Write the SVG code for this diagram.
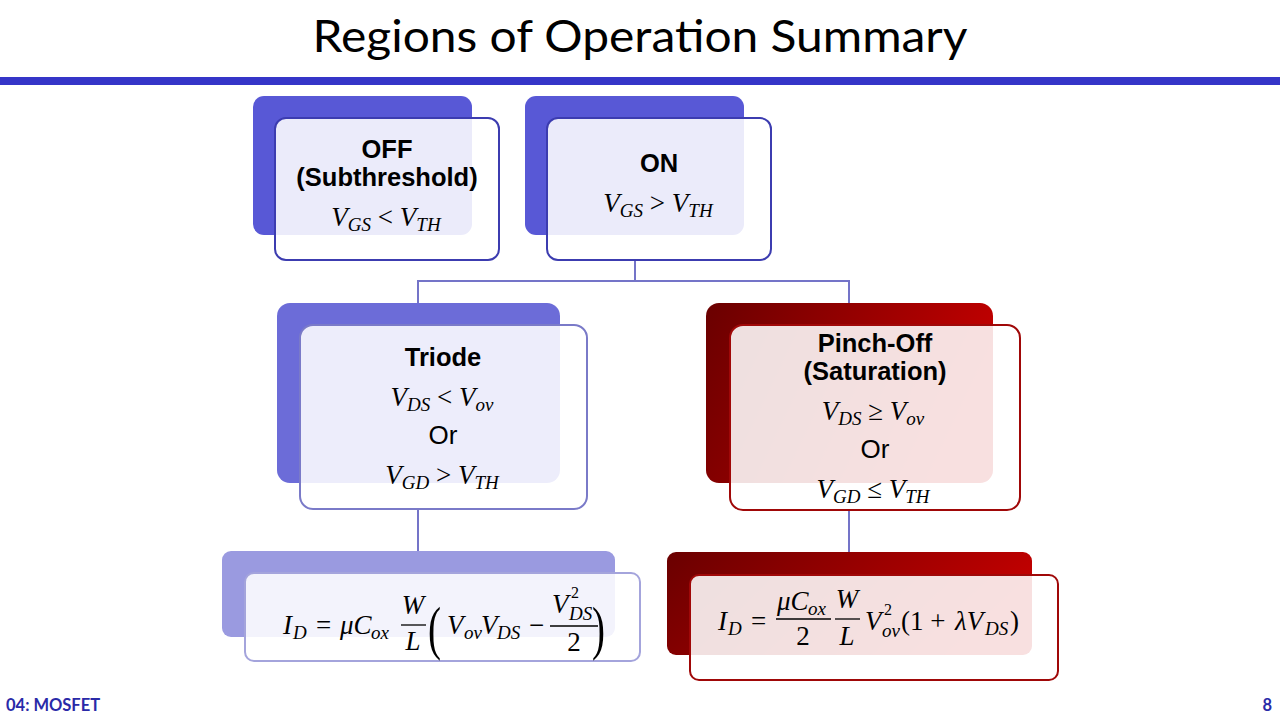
<svg xmlns="http://www.w3.org/2000/svg" width="1280" height="720" viewBox="0 0 1280 720">
<defs>
<linearGradient id="red" x1="0" y1="0" x2="1" y2="0.3">
<stop offset="0" stop-color="#6a0000"/>
<stop offset="1" stop-color="#c20000"/>
</linearGradient>
<style>
.title{font-family:Lato,"Liberation Sans",sans-serif;font-size:45px;fill:#000}
.lbl{font-family:"Liberation Sans",Arial,sans-serif;font-size:25.5px;font-weight:bold;fill:#000;text-anchor:middle}
.or{font-family:"Liberation Sans",Arial,sans-serif;font-size:26px;fill:#000;text-anchor:middle}
.m{font-family:"Liberation Serif","DejaVu Serif",serif;font-style:italic;font-size:27px;fill:#000}
.mc{text-anchor:middle}
.r{font-style:normal}
.sub{font-size:19px}
.s{font-family:"Liberation Serif","DejaVu Serif",serif;font-style:italic;font-size:19px;fill:#000}
.sp{font-family:"Liberation Serif","DejaVu Serif",serif;font-size:16px;fill:#000}
.front{fill:#fff;fill-opacity:0.88;stroke-width:2}
.bstroke{stroke:#3c3cb0}
.tstroke{stroke:#7a7ac8}
.fstroke{stroke:#a4a4dc}
.rstroke{stroke:#a00808}
.conn{stroke:#7474c8;stroke-width:2;fill:none}
.bar{stroke:#000;stroke-width:1.3}
.foot{font-family:Lato,"Liberation Sans",sans-serif;font-size:16.5px;font-weight:bold;fill:#2a2aa8}
</style>
</defs>
<rect x="0" y="0" width="1280" height="720" fill="#fff"/>
<text class="title" x="640" y="52" text-anchor="middle" textLength="655" lengthAdjust="spacingAndGlyphs">Regions of Operation Summary</text>
<rect x="0" y="77" width="1280" height="8" fill="#3535c8"/>

<g id="connectors">
<path class="conn" d="M635 260 V281 M418 281 H849 M418 280 V303 M849 280 V303"/>
<path class="conn" d="M418 509 V551"/>
<path class="conn" d="M849 510 V552"/>
</g>

<g id="off">
<rect x="253" y="96" width="219" height="139" rx="11" fill="#5858d6"/>
<rect class="front bstroke" x="275" y="118" width="224" height="142" rx="11"/>
<text class="lbl" x="387" y="158">OFF</text>
<text class="lbl" x="387" y="186">(Subthreshold)</text>
<text class="m mc" x="386" y="226">V<tspan class="sub" dy="5">GS</tspan><tspan class="r" dy="-5"> &lt; </tspan>V<tspan class="sub" dy="5">TH</tspan></text>
</g>

<g id="on">
<rect x="525" y="96" width="219" height="139" rx="11" fill="#5858d6"/>
<rect class="front bstroke" x="547" y="118" width="224" height="142" rx="11"/>
<text class="lbl" x="659" y="172">ON</text>
<text class="m mc" x="658" y="212">V<tspan class="sub" dy="5">GS</tspan><tspan class="r" dy="-5"> &gt; </tspan>V<tspan class="sub" dy="5">TH</tspan></text>
</g>

<g id="triode">
<rect x="277" y="303" width="283" height="180" rx="13" fill="#6c6cd8"/>
<rect class="front tstroke" x="300" y="325" width="287" height="184" rx="13"/>
<text class="lbl" x="443" y="366">Triode</text>
<text class="m mc" x="442" y="406">V<tspan class="sub" dy="5">DS</tspan><tspan class="r" dy="-5"> &lt; </tspan>V<tspan class="sub" dy="5">ov</tspan></text>
<text class="or" x="443" y="444">Or</text>
<text class="m mc" x="442" y="484">V<tspan class="sub" dy="5">GD</tspan><tspan class="r" dy="-5"> &gt; </tspan>V<tspan class="sub" dy="5">TH</tspan></text>
</g>

<g id="pinchoff">
<rect x="706" y="303" width="287" height="180" rx="13" fill="url(#red)"/>
<rect class="front rstroke" x="730" y="325" width="290" height="185" rx="13"/>
<text class="lbl" x="875" y="352">Pinch-Off</text>
<text class="lbl" x="875" y="380">(Saturation)</text>
<text class="m mc" x="873" y="420">V<tspan class="sub" dy="5">DS</tspan><tspan class="r" dy="-5"> ≥ </tspan>V<tspan class="sub" dy="5">ov</tspan></text>
<text class="or" x="875" y="458">Or</text>
<text class="m mc" x="873" y="498">V<tspan class="sub" dy="5">GD</tspan><tspan class="r" dy="-5"> ≤ </tspan>V<tspan class="sub" dy="5">TH</tspan></text>
</g>

<g id="triode-current">
<rect x="222" y="551" width="393" height="86" rx="9" fill="#9a9ae0"/>
<rect class="front fstroke" x="245" y="573" width="395" height="88" rx="9"/>
<text class="m" x="283" y="634">I</text>
<text class="s" x="293" y="639">D</text>
<text class="m r" x="316" y="634">=</text>
<text class="m" x="340" y="634">μC</text>
<text class="s" x="371" y="639">ox</text>
<text class="m mc" x="413" y="614">W</text>
<line class="bar" x1="401" y1="625" x2="426" y2="625"/>
<text class="m mc" x="413" y="650">L</text>
<text class="m r" x="428" y="648" style="font-size:60px" transform="translate(428 0) scale(0.65 1) translate(-428 0)">(</text>
<text class="m" x="447" y="634">V</text>
<text class="s" x="464" y="639">ov</text>
<text class="m" x="481" y="634">V</text>
<text class="s" x="497" y="639">DS</text>
<text class="m r" x="529" y="634">−</text>
<text class="m" x="552" y="613">V</text>
<text class="sp" x="571" y="598">2</text>
<text class="s" x="569" y="620">DS</text>
<line class="bar" x1="550" y1="626" x2="598" y2="626"/>
<text class="m mc r" x="574" y="651">2</text>
<text class="m r" x="592" y="648" style="font-size:60px" transform="translate(592 0) scale(0.65 1) translate(-592 0)">)</text>
</g>

<g id="saturation-current">
<rect x="667" y="552" width="365" height="103" rx="9" fill="url(#red)"/>
<rect class="front rstroke" x="690" y="575" width="368" height="105" rx="9"/>
<text class="m" x="718" y="630">I</text>
<text class="s" x="728" y="635">D</text>
<text class="m r" x="751" y="630">=</text>
<text class="m" x="777" y="610">μC</text>
<text class="s" x="808" y="615">ox</text>
<line class="bar" x1="776" y1="619" x2="831" y2="619"/>
<text class="m mc r" x="803" y="645">2</text>
<text class="m mc" x="847" y="608">W</text>
<line class="bar" x1="835" y1="619" x2="860" y2="619"/>
<text class="m mc" x="847" y="645">L</text>
<text class="m" x="865" y="630">V</text>
<text class="sp" x="884" y="615">2</text>
<text class="s" x="882" y="637">ov</text>
<text class="m r" x="901" y="630">(1 +</text>
<text class="m" x="955" y="630">λV</text>
<text class="s" x="985" y="635">DS</text>
<text class="m r" x="1010" y="630">)</text>
</g>

<text class="foot" x="6" y="711">04: MOSFET</text>
<text class="foot" x="1272" y="711" text-anchor="end">8</text>
</svg>
